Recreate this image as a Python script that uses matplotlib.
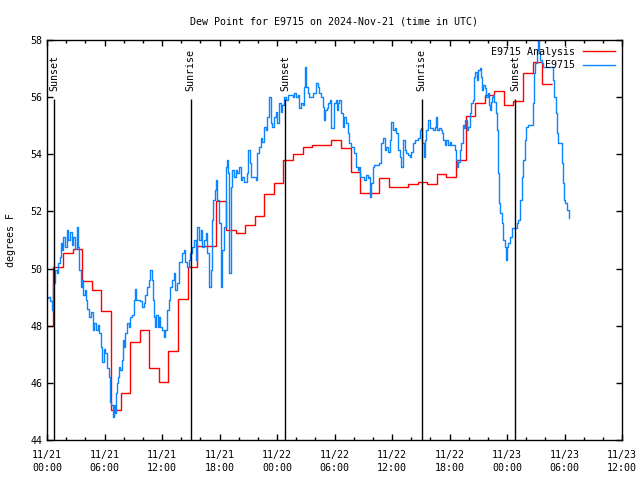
import numpy as np
import matplotlib.pyplot as plt

# hours since 2024-11-21 00:00 UTC
tick_labels = ['11/21\n00:00', '11/21\n06:00', '11/21\n12:00', '11/21\n18:00',
               '11/22\n00:00', '11/22\n06:00', '11/22\n12:00', '11/22\n18:00',
               '11/23\n00:00', '11/23\n06:00', '11/23\n12:00']

# hourly analysis (step edges in hours)
analysis_edges = np.arange(54) - 0.33
analysis_vals = [48.0, 50.05, 50.54, 50.68, 49.56, 49.25, 48.52, 45.05, 45.63, 47.44,
                 47.85, 46.52, 46.04, 47.12, 48.93, 50.04, 50.79, 50.79, 52.38, 51.35,
                 51.26, 51.52, 51.84, 52.61, 53.0, 53.79, 54.0, 54.27, 54.34, 54.34,
                 54.5, 54.21, 53.39, 52.63, 52.63, 53.18, 52.87, 52.87, 52.95, 53.02,
                 52.95, 53.3, 53.2, 53.79, 55.33, 55.8, 56.06, 56.2, 55.72, 55.88,
                 56.83, 57.22, 56.46]

# station observations
obs_hours = [0.0, 0.14, 0.31, 0.49, 0.66, 0.84, 1.01, 1.19, 1.36, 1.47, 1.6, 1.71, 1.88,
             2.06, 2.23, 2.41, 2.59, 2.76, 2.93, 3.11, 3.21, 3.38, 3.53, 3.66, 3.8, 3.98,
             4.08, 4.22, 4.4, 4.57, 4.75, 4.92, 5.1, 5.27, 5.45, 5.62, 5.76, 5.9, 6.07,
             6.25, 6.42, 6.6, 6.7, 6.84, 6.94, 7.05, 7.19, 7.3, 7.43, 7.54, 7.64, 7.82,
             7.92, 8.06, 8.17, 8.34, 8.51, 8.69, 8.87, 9.04, 9.14, 9.25, 9.56, 9.74, 9.92,
             10.08, 10.26, 10.44, 10.61, 10.79, 10.92, 11.07, 11.2, 11.31, 11.41, 11.55,
             11.7, 11.83, 12.01, 12.18, 12.36, 12.53, 12.71, 12.88, 13.06, 13.23, 13.4,
             13.58, 13.75, 13.93, 14.1, 14.28, 14.45, 14.62, 14.8, 14.97, 15.15, 15.32,
             15.5, 15.67, 15.85, 16.02, 16.2, 16.37, 16.54, 16.72, 16.89, 17.07, 17.24,
             17.35, 17.49, 17.63, 17.77, 17.94, 18.12, 18.29, 18.46, 18.64, 18.74, 18.88,
             19.02, 19.16, 19.3, 19.51, 19.69, 19.86, 20.03, 20.21, 20.39, 20.56, 20.91,
             21.01, 21.19, 21.26, 21.61, 21.78, 21.96, 22.13, 22.3, 22.48, 22.65, 22.83,
             23.0, 23.17, 23.35, 23.53, 23.7, 23.87, 24.05, 24.22, 24.4, 24.57, 24.74,
             24.92, 25.1, 25.45, 25.62, 25.79, 25.97, 26.15, 26.31, 26.49, 26.67, 26.77,
             26.91, 27.02, 27.19, 27.36, 27.72, 27.89, 28.06, 28.24, 28.41, 28.59, 28.76,
             28.87, 29.01, 29.18, 29.35, 29.49, 29.63, 29.81, 29.98, 30.16, 30.26, 30.4,
             30.5, 30.68, 30.86, 31.03, 31.2, 31.38, 31.55, 31.73, 31.9, 32.08, 32.25,
             32.43, 32.6, 32.7, 32.95, 33.12, 33.3, 33.48, 33.64, 33.75, 33.82, 34.0,
             34.17, 34.52, 34.69, 34.87, 35.05, 35.22, 35.39, 35.57, 35.74, 35.92, 36.09,
             36.27, 36.44, 36.62, 36.79, 36.89, 37.14, 37.31, 37.49, 37.66, 37.83, 38.01,
             38.19, 38.36, 38.53, 38.71, 38.88, 39.06, 39.16, 39.3, 39.4, 39.58, 39.76,
             39.93, 40.1, 40.28, 40.45, 40.63, 40.73, 40.87, 41.08, 41.22, 41.33, 41.5,
             41.68, 41.85, 42.02, 42.2, 42.38, 42.55, 42.65, 42.76, 42.9, 43.07, 43.25,
             43.42, 43.53, 43.66, 43.8, 43.95, 44.12, 44.29, 44.47, 44.58, 44.71, 44.82,
             45.0, 45.16, 45.27, 45.41, 45.52, 45.69, 45.86, 45.97, 46.11, 46.21, 46.32,
             46.46, 46.56, 46.67, 46.81, 46.91, 47.02, 47.15, 47.3, 47.43, 47.61, 47.78,
             47.89, 48.03, 48.14, 48.31, 48.48, 48.83, 49.01, 49.18, 49.35, 49.53, 49.71,
             49.88, 49.95, 50.23, 50.58, 50.75, 50.86, 50.92, 51.1, 51.2, 51.34, 51.45,
             51.62, 51.8, 52.15, 52.49, 52.74, 52.85, 52.95, 53.09, 53.19, 53.37, 53.54,
             53.72, 53.82, 53.96, 54.07, 54.24, 54.42]
obs_vals = [48.96, 49.02, 48.85, 48.55, 49.48, 49.95, 49.83, 50.18, 50.42, 50.88, 50.65,
            51.12, 50.77, 51.35, 51.0, 51.29, 50.82, 51.12, 50.7, 51.47, 50.77, 49.95,
            49.37, 49.6, 49.07, 49.25, 48.9, 48.6, 48.3, 48.48, 47.85, 48.08, 47.85,
            48.02, 47.73, 47.27, 46.74, 47.2, 47.03, 46.51, 46.22, 45.34, 45.22, 44.82,
            45.22, 44.93, 45.63, 45.98, 46.22, 46.57, 46.45, 46.8, 47.5, 47.27, 47.73,
            48.08, 47.97, 48.32, 48.38, 48.9, 49.3, 48.9, 48.9, 48.85, 48.67, 48.78,
            49.07, 49.37, 49.6, 49.95, 49.6, 48.9, 48.32, 47.97, 48.38, 47.97, 48.32,
            47.97, 47.85, 47.62, 47.85, 48.55, 48.9, 49.37, 49.6, 49.83, 49.25, 49.48,
            50.24, 50.24, 50.53, 50.65, 50.24, 50.07, 50.3, 50.53, 50.77, 51.0, 50.3,
            51.47, 51.0, 51.35, 50.77, 51.0, 51.23, 50.53, 49.37, 49.95, 51.7, 52.4,
            52.75, 53.1, 52.4, 51.58, 49.37, 50.65, 51.47, 53.57, 53.8, 53.33, 49.83,
            52.87, 53.45, 53.22, 53.45, 53.33, 53.57, 53.1, 53.22, 53.04, 53.33, 54.15,
            53.68, 53.22, 53.22, 53.1, 54.03, 54.27, 54.56, 54.44, 54.97, 54.85, 55.32,
            56.02, 55.08, 54.97, 55.32, 55.49, 55.08, 55.78, 55.49, 55.72, 56.02, 55.9,
            56.08, 56.08, 56.02, 56.13, 56.02, 56.08, 55.61, 55.78, 55.72, 56.37, 57.07,
            56.37, 56.13, 56.02, 56.13, 56.13, 56.48, 56.37, 56.13, 56.02, 55.67, 55.2,
            55.55, 55.61, 55.78, 55.9, 54.91, 54.91, 55.78, 55.9, 55.55, 55.78, 55.9,
            55.43, 54.97, 55.32, 55.08, 54.73, 54.38, 54.27, 54.27, 54.03, 53.57, 53.45,
            53.57, 53.22, 53.22, 53.1, 53.27, 53.16, 53.22, 52.52, 52.98, 53.57, 53.62,
            53.62, 53.68, 54.38, 54.56, 54.15, 54.27, 54.09, 54.5, 55.14, 54.85, 54.91,
            54.73, 54.15, 53.92, 53.57, 54.5, 54.15, 54.03, 53.97, 53.92, 54.09, 54.38,
            54.5, 54.5, 54.56, 54.85, 54.91, 54.38, 53.92, 54.5, 54.85, 55.2, 54.91,
            54.91, 54.85, 54.97, 55.32, 54.85, 54.91, 54.85, 54.73, 54.5, 54.32, 54.5,
            54.32, 54.44, 54.32, 54.32, 54.15, 53.8, 53.57, 53.74, 54.15, 54.38, 55.02,
            54.91, 55.2, 54.85, 54.97, 55.43, 55.78, 55.9, 56.72, 56.89, 56.6, 56.95,
            57.01, 56.72, 56.25, 56.43, 56.31, 56.02, 56.13, 55.72, 55.55, 55.84, 56.02,
            56.07, 55.84, 55.43, 54.85, 53.33, 52.28, 51.93, 51.58, 51.0, 50.77, 50.3,
            50.77, 50.88, 51.12, 51.41, 51.41, 51.58, 51.7, 52.4, 53.22, 53.8, 54.5,
            54.97, 55.02, 55.02, 55.78, 56.83, 57.18, 57.65, 58.1, 57.53, 57.3, 57.18,
            57.07, 57.07, 57.07, 57.07, 56.6, 56.02, 55.43, 54.73, 54.38, 54.38, 53.68,
            52.98, 52.4, 52.28, 52.05, 51.76]

sun_hours = [0.73, 15.0, 24.85, 39.09, 48.83]
sun_labels = ['Sunset', 'Sunrise', 'Sunset', 'Sunrise', 'Sunset']

plt.rcParams['font.family'] = 'DejaVu Sans Mono'
plt.rcParams['font.size'] = 7.2

fig = plt.figure(figsize=(6.4, 4.8), dpi=100)
ax = fig.add_axes([47 / 640, 40 / 480, 575 / 640, 400 / 480])

ax.stairs(analysis_vals, analysis_edges, baseline=None, color='#ff0000', lw=1.0,
          label='E9715 Analysis')
ax.step(obs_hours, obs_vals, where='post', color='#0a84ff', lw=1.0, label='E9715')

ax.vlines(sun_hours, 44, 55.93, color='black', lw=1.0)
for h, lab in zip(sun_hours, sun_labels):
    ax.text(h, 56.23, lab, rotation=90, ha='center', va='bottom')

ax.set_xlim(0, 60)
ax.set_ylim(44, 58)
ax.set_xticks(np.arange(0, 61, 6))
ax.set_xticklabels(tick_labels, linespacing=1.45)
ax.set_xticks(np.arange(0, 61, 2), minor=True)
ax.set_yticks(np.arange(44, 59, 2))
ax.tick_params(which='both', direction='in', top=True, right=True, width=1)
ax.tick_params(which='major', length=4)
ax.tick_params(axis='x', which='major', pad=7)
ax.tick_params(which='minor', length=2.5)
for s in ax.spines.values():
    s.set_linewidth(1)

ax.set_ylabel('degrees F', labelpad=10)
ax.set_title('Dew Point for E9715 on 2024-Nov-21 (time in UTC)', fontsize=7.2, pad=11)

leg = ax.legend(loc='upper right', frameon=False, markerfirst=False, handlelength=3.2,
                labelspacing=0.35, borderaxespad=0.3, handletextpad=0.8)

fig.savefig('out.png', dpi=100)
